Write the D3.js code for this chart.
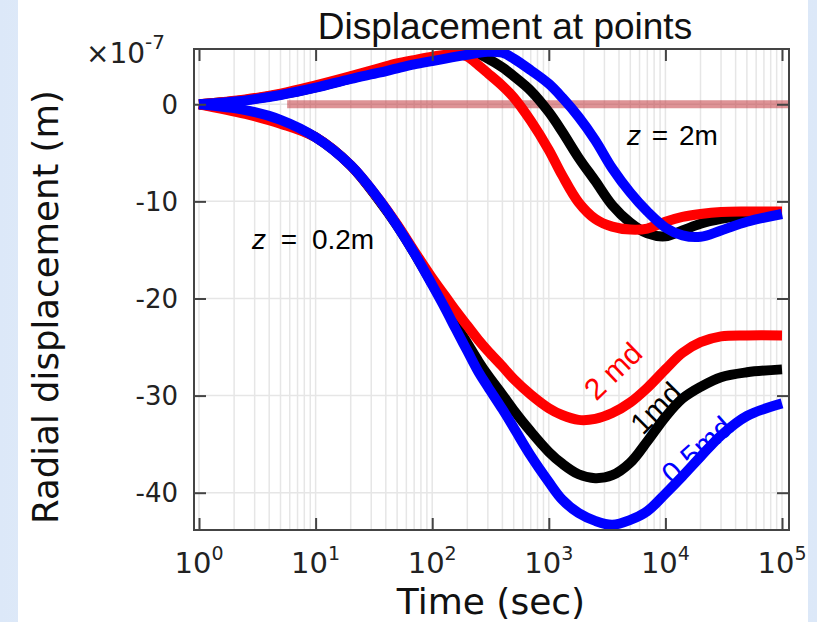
<!DOCTYPE html>
<html>
<head>
<meta charset="utf-8">
<script src="https://cdn.jsdelivr.net/npm/d3@7"></script>
<style>
  html, body { margin: 0; padding: 0; }
  body { width: 817px; height: 622px; overflow: hidden;
         background: linear-gradient(to right, #dce8f8, #eef4fc 50%, #dce8f8); }
  svg { display: block; }
</style>
</head>
<body>
<div id="chart"></div>
<script>
'use strict';

// sampled times (sec) shared by all curves
var times = [1, 2.5, 5, 10, 20, 35, 50, 70, 100, 130, 160, 200, 250, 300, 400, 500, 700,
  1000, 1300, 1800, 2500, 3500, 5000, 7000, 10000, 14000, 20000, 30000, 50000, 100000];

// radial displacement, units of 1e-7 m, z = 0.2m
var z02_2md = [0, -1.0, -2.0, -3.4, -6.3, -9.8, -12.4, -15.1, -17.9, -19.8, -21.3, -22.8, -24.3, -25.4, -27.0, -28.3, -29.9,
  -31.3, -32.0, -32.5, -32.4, -31.8, -30.7, -29.2, -27.3, -25.6, -24.5, -23.9, -23.8, -23.8];
var z02_1md = [0, -0.8, -1.8, -3.4, -6.3, -9.9, -12.5, -15.3, -18.5, -20.8, -22.7, -24.6, -26.5, -27.9, -29.9, -31.5, -33.7,
  -35.8, -37.0, -38.1, -38.5, -38.2, -36.9, -34.7, -32.2, -30.3, -29.1, -28.1, -27.6, -27.3];
var z02_05md = [0, -0.6, -1.6, -3.4, -6.3, -9.8, -12.5, -15.3, -18.6, -21.1, -23.2, -25.4, -27.6, -29.1, -31.4, -33.3, -36.2,
  -38.9, -40.7, -42.1, -42.9, -43.3, -42.8, -41.9, -40.1, -38.3, -36.3, -34.1, -32.1, -30.8];

// z = 2m
var z2_2md = [0, 0.5, 1.1, 1.95, 2.9, 3.7, 4.2, 4.55, 4.9, 5.1, 5.25, 4.9, 4.0, 3.2, 1.9, 0.7, -1.7,
  -4.7, -7.3, -10.1, -11.8, -12.6, -12.9, -12.8, -12.1, -11.6, -11.3, -11.1, -11.05, -11.05];
var z2_1md = [0, 0.45, 1.0, 1.75, 2.65, 3.4, 3.85, 4.25, 4.65, 4.9, 5.1, 5.25, 5.15, 4.7, 3.8, 2.9, 1.4,
  -0.8, -2.8, -5.5, -7.9, -10.4, -12.2, -13.3, -13.6, -13.0, -12.3, -11.8, -11.4, -11.2];
var z2_05md = [0, 0.4, 0.95, 1.7, 2.6, 3.25, 3.7, 4.1, 4.45, 4.7, 4.9, 5.1, 5.3, 5.4, 5.3, 4.7, 3.5,
  2.1, 0.7, -1.3, -3.7, -6.6, -9.1, -11.05, -12.7, -13.5, -13.65, -13.0, -12.1, -11.3];

// zero reference bar
var refTimes = [5.7, 1.2e5];
var refValues = [0, 0];

var xTickValues = [1, 10, 100, 1000, 10000, 100000];
var yTickValues = [0, -10, -20, -30, -40];

var series = [
  {values: z02_1md, color: '#000000'},
  {values: z2_1md, color: '#000000'},
  {values: z02_2md, color: '#ff0000'},
  {values: z2_2md, color: '#ff0000'},
  {values: z02_05md, color: '#0000ff'},
  {values: z2_05md, color: '#0000ff'}
];

var W = 817, H = 622;
var margin = {top: 49, right: 28, bottom: 92, left: 194};
var width = W - margin.left - margin.right;
var height = H - margin.top - margin.bottom;

var svg = d3.select('#chart').append('svg')
  .attr('width', W)
  .attr('height', H);

// white picture area on the slide
svg.append('rect')
  .attr('x', 18).attr('y', 0)
  .attr('width', 790).attr('height', H)
  .attr('fill', '#ffffff');

var xScale = d3.scaleLog()
  .domain([Math.pow(10, -0.043), Math.pow(10, 5.06)])
  .range([0, width]);
var yScale = d3.scaleLinear()
  .domain([-43.84, 5.69])
  .range([height, 0]);

var g = svg.append('g')
  .attr('transform', 'translate(' + margin.left + ',' + margin.top + ')');

g.append('clipPath').attr('id', 'clip')
  .append('rect').attr('width', width).attr('height', height);

// grid
var minorTicks = [];
for (var e = 0; e < 5; e++) {
  for (var m = 1; m < 10; m++) minorTicks.push(m * Math.pow(10, e));
}
minorTicks.push(100000);

g.append('g').selectAll('line.vgrid')
  .data(minorTicks)
  .enter().append('line')
  .attr('x1', function(d) { return xScale(d); })
  .attr('x2', function(d) { return xScale(d); })
  .attr('y1', 0).attr('y2', height)
  .attr('stroke', '#e6e6e6')
  .attr('stroke-width', 1.5);

g.append('g').selectAll('line.hgrid')
  .data(yTickValues)
  .enter().append('line')
  .attr('x1', 0).attr('x2', width)
  .attr('y1', function(d) { return yScale(d); })
  .attr('y2', function(d) { return yScale(d); })
  .attr('stroke', '#e6e6e6')
  .attr('stroke-width', 1.5);

var line = d3.line()
  .x(function(d) { return xScale(d[0]); })
  .y(function(d) { return yScale(d[1]); })
  .curve(d3.curveCatmullRom.alpha(0.5));

var plot = g.append('g').attr('clip-path', 'url(#clip)');

// reference bar at zero
plot.append('path')
  .datum(d3.zip(refTimes, refValues))
  .attr('d', line)
  .attr('fill', 'none')
  .attr('stroke', 'rgba(190, 40, 45, 0.5)')
  .attr('stroke-width', 8);

plot.selectAll('path.curve')
  .data(series)
  .enter().append('path')
  .attr('class', 'curve')
  .attr('d', function(s) { return line(d3.zip(times, s.values)); })
  .attr('fill', 'none')
  .attr('stroke', function(s) { return s.color; })
  .attr('stroke-width', 10);

// frame and inward ticks
var frameColor = '#444';
g.append('rect')
  .attr('width', width).attr('height', height)
  .attr('fill', 'none')
  .attr('stroke', frameColor)
  .attr('stroke-width', 2);

var xAxisBottom = d3.axisBottom(xScale).tickValues(xTickValues).tickSize(-12).tickFormat('');
var xAxisTop = d3.axisTop(xScale).tickValues(xTickValues).tickSize(-12).tickFormat('');
var yAxisLeft = d3.axisLeft(yScale).tickValues(yTickValues).tickSize(-12).tickFormat('');
var yAxisRight = d3.axisRight(yScale).tickValues(yTickValues).tickSize(-12).tickFormat('');

g.append('g').attr('transform', 'translate(0,' + height + ')').call(xAxisBottom);
g.append('g').call(xAxisTop);
g.append('g').call(yAxisLeft);
g.append('g').attr('transform', 'translate(' + width + ',0)').call(yAxisRight);
g.selectAll('.domain').remove();
g.selectAll('.tick line').attr('stroke', frameColor).attr('stroke-width', 2);

// tick labels
var labelFont = '"DejaVu Sans", sans-serif';

g.selectAll('text.ylab')
  .data(yTickValues)
  .enter().append('text')
  .attr('x', -16)
  .attr('y', function(d) { return yScale(d); })
  .attr('dy', '0.36em')
  .attr('text-anchor', 'end')
  .attr('font-family', labelFont)
  .attr('font-size', 26)
  .attr('fill', '#222')
  .text(function(d) { return d; });

var xl = g.selectAll('text.xlab')
  .data(xTickValues)
  .enter().append('text')
  .attr('x', function(d) { return xScale(d); })
  .attr('y', height + 43)
  .attr('text-anchor', 'middle')
  .attr('font-family', labelFont)
  .attr('font-size', 29)
  .attr('fill', '#222');
xl.append('tspan').text('10');
xl.append('tspan')
  .attr('dy', -13)
  .attr('font-size', 19)
  .text(function(d) { return Math.round(Math.log10(d)); });

// exponent marker
var ex = svg.append('text')
  .attr('x', 86).attr('y', 63)
  .attr('font-family', labelFont)
  .attr('font-size', 28)
  .attr('fill', '#222');
ex.append('tspan').text('\u00d710');
ex.append('tspan').attr('dy', -14).attr('font-size', 20).text('-7');

// axis titles
svg.append('text')
  .attr('x', 491).attr('y', 614)
  .attr('text-anchor', 'middle')
  .attr('font-family', labelFont)
  .attr('font-size', 36)
  .attr('fill', '#111')
  .text('Time (sec)');

svg.append('text')
  .attr('transform', 'translate(58,307) rotate(-90)')
  .attr('text-anchor', 'middle')
  .attr('font-family', labelFont)
  .attr('font-size', 35.5)
  .attr('fill', '#111')
  .text('Radial displacement (m)');

svg.append('text')
  .attr('x', 505).attr('y', 39)
  .attr('text-anchor', 'middle')
  .attr('font-family', '"Liberation Sans", Arial, sans-serif')
  .attr('font-size', 37)
  .attr('fill', '#111')
  .text('Displacement at points');

// annotations
var annFont = '"Liberation Sans", Arial, sans-serif';
function zLabel(x, y, rest, spacing) {
  var t = svg.append('text')
    .attr('x', x).attr('y', y)
    .attr('font-family', annFont)
    .attr('font-size', 28)
    .attr('word-spacing', spacing)
    .attr('fill', '#000');
  t.append('tspan').attr('font-style', 'italic').text('z');
  t.append('tspan').text(' = ' + rest);
}
zLabel(627, 145, '2m', 3);
zLabel(252, 249, '0.2m', 7);

var mdLabels = [
  {text: '2 md', x: 613, y: 371, angle: -44, color: '#ff0000'},
  {text: '1md', x: 656, y: 408, angle: -45, color: '#000000'},
  {text: '0.5md', x: 697, y: 450, angle: -42, color: '#0000ff'}
];
svg.selectAll('text.md')
  .data(mdLabels)
  .enter().append('text')
  .attr('transform', function(d) { return 'translate(' + d.x + ',' + d.y + ') rotate(' + d.angle + ')'; })
  .attr('text-anchor', 'middle')
  .attr('dy', '0.35em')
  .attr('font-family', annFont)
  .attr('font-size', 30)
  .attr('fill', function(d) { return d.color; })
  .text(function(d) { return d.text; });
</script>
</body>
</html>
